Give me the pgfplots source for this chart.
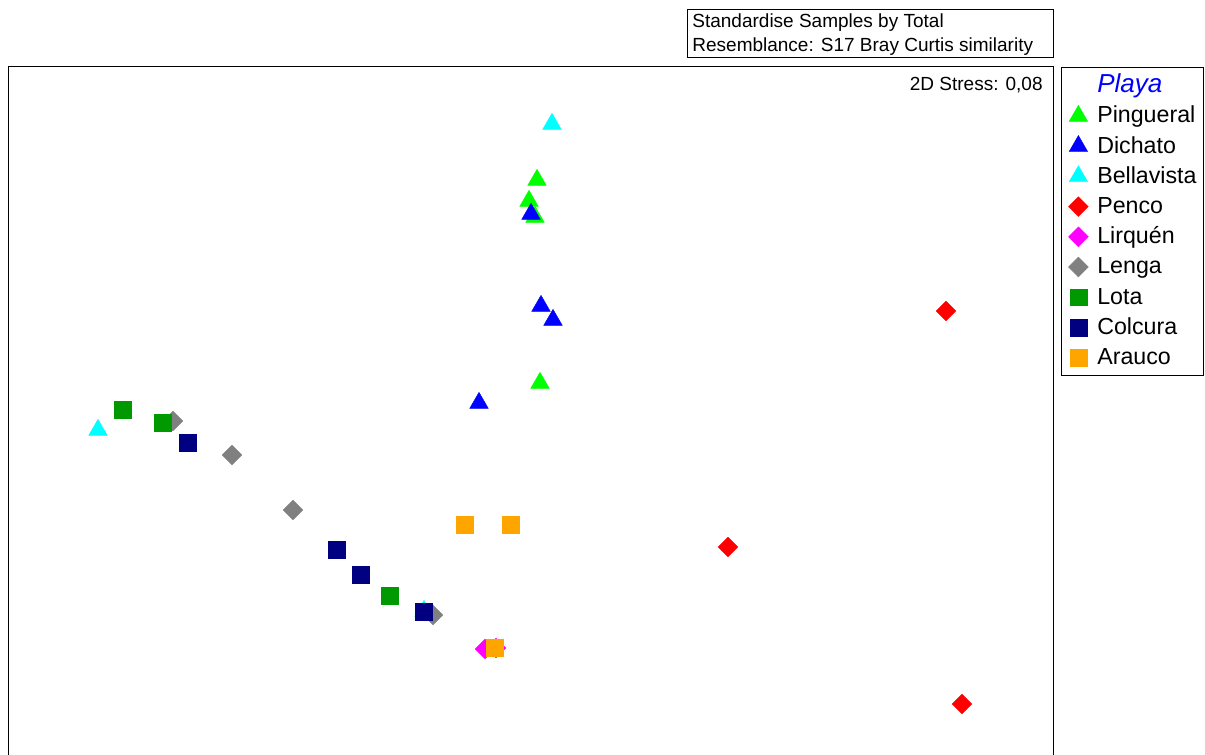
\documentclass[border=0pt]{standalone}
\usepackage{fontspec}
\setmainfont{Liberation Sans}
\usepackage{pgfplots}
\pgfplotsset{compat=1.18}
\definecolor{cPing}{RGB}{0,255,0}
\definecolor{cDich}{RGB}{0,0,255}
\definecolor{cBell}{RGB}{0,255,255}
\definecolor{cPenc}{RGB}{255,0,0}
\definecolor{cLirq}{RGB}{255,0,255}
\definecolor{cLeng}{RGB}{128,128,128}
\definecolor{cLota}{RGB}{0,153,0}
\definecolor{cColc}{RGB}{0,0,128}
\definecolor{cArau}{RGB}{255,165,0}
\begin{document}
\begin{tikzpicture}
\begin{axis}[
  x=0.5pt, y=0.5pt,
  xmin=0, xmax=1205, ymin=-755, ymax=0,
  hide axis, clip=false,
  legend style={at={(axis cs:1061,-67)}, anchor=north west, draw=black, line width=0.5pt,
    font=\fontsize{11.6}{13}\selectfont, inner xsep=3.5pt, inner ysep=1.6pt,
    row sep=0pt, column sep=4.5pt, cells={anchor=west},
    nodes={inner sep=0pt, text height=11.0pt, text depth=4.1pt}},
  legend image code/.code={\draw[#1] plot coordinates {(4.5pt,0pt)}; \path (0pt,0pt) (9pt,0pt);},
  tri/.style={only marks, mark=triangle*, mark size=5.35pt, mark options={line width=0.2pt}},
  dia/.style={only marks, mark=square*, mark size=3.5pt, mark options={rotate=45, line width=0.2pt}},
  sqr/.style={only marks, mark=square*, mark size=4.2pt, mark options={line width=0.2pt}},
]
\coordinate (BL) at (axis cs:0,-755);
\coordinate (TR) at (axis cs:1205,0);
\draw[line width=0.5pt] (axis cs:8,-755) -- (axis cs:8,-67) -- (axis cs:1053,-67) -- (axis cs:1053,-755);
\draw[line width=0.5pt] (axis cs:687,-10) rectangle (axis cs:1053,-58);
\node[anchor=base west, inner sep=0pt, font=\fontsize{9.5}{11}\selectfont] at (axis cs:692,-27.5) {Standardise Samples by Total};
\node[anchor=base west, inner sep=0pt, font=\fontsize{9.5}{11}\selectfont] at (axis cs:692,-51.5) {Resemblance: S17 Bray Curtis similarity};
\node[anchor=base east, inner sep=0pt, font=\fontsize{9.5}{11}\selectfont] at (axis cs:1043,-90.7) {2D Stress: 0,08};

\addlegendimage{empty legend}
\addlegendentry{\textcolor{blue}{\fontsize{13}{13}\selectfont\itshape Playa}}

\addplot[tri, color=cPing] coordinates {(537,-180) (529,-201) (535,-217) (540,-383)};
\addlegendentry{Pingueral}
\addplot[tri, color=cDich] coordinates {(531,-214) (541,-306) (553,-320) (479,-403)};
\addlegendentry{Dichato}
\addplot[tri, color=cBell] coordinates {(552,-124) (98,-430) (424,-611)};
\addlegendentry{Bellavista}
\addplot[dia, color=cPenc] coordinates {(946,-311) (728,-547) (962,-704)};
\addlegendentry{Penco}
\addplot[dia, color=cLirq] coordinates {(485,-649) (496,-648)};
\addlegendentry{Lirquén}
\addplot[dia, color=cLeng] coordinates {(173,-421) (232,-455) (293,-510) (433,-615)};
\addlegendentry{Lenga}
\addplot[sqr, color=cLota] coordinates {(123,-410) (163,-423) (390,-596)};
\addlegendentry{Lota}
\addplot[sqr, color=cColc] coordinates {(188,-443) (337,-550) (361,-575) (424,-612)};
\addlegendentry{Colcura}
\addplot[sqr, color=cArau] coordinates {(465,-525) (511,-525) (495,-648)};
\addlegendentry{Arauco}
\end{axis}
\pgfresetboundingbox
\useasboundingbox (BL) rectangle (TR);
\end{tikzpicture}
\end{document}
